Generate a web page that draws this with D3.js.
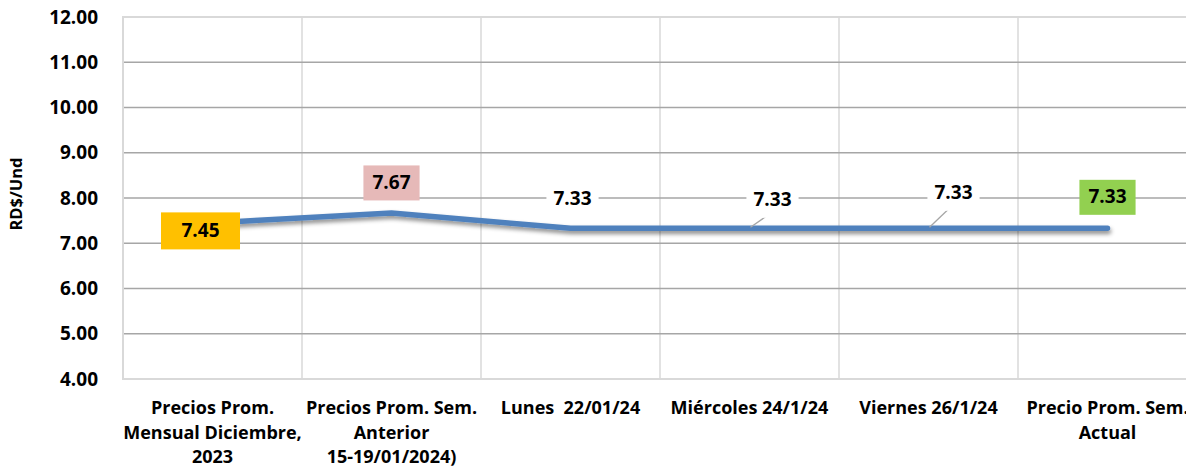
<!DOCTYPE html>
<html>
<head>
<meta charset="utf-8">
<script src="https://cdn.jsdelivr.net/npm/d3@7"></script>
<style>
  body { margin: 0; background: #fff; }
  svg { display: block; font-family: "Open Sans", Lato, sans-serif; font-weight: 700; }
</style>
</head>
<body>
<svg id="chart" width="1186" height="466"></svg>
<script>
// categories (wrapped the way the original shows them)
const categories = [
  ['Precios Prom.', 'Mensual Diciembre,', '2023'],
  ['Precios Prom. Sem.', 'Anterior', '15-19/01/2024)'],
  ['Lunes  22/01/24'],
  ['Miércoles 24/1/24'],
  ['Viernes 26/1/24'],
  ['Precio Prom. Sem.', 'Actual'],
]
const prices = [7.45, 7.67, 7.33, 7.33, 7.33, 7.33]
const labelFills = ['#ffc000', '#e6b9b8', '#fff', '#fff', '#fff', '#92d050']
const yTicks = [4, 5, 6, 7, 8, 9, 10, 11, 12]
const yTitle = 'RD$/Und'

// label offsets relative to the point (px)
const labelOffsets = [[-12, 7], [0, -31], [2, -30], [23, -29], [25, -36], [0, -32]]
const leaderLines = [false, false, false, true, true, false]

const margin = { top: 17, left: 123, bottom: 87 }
const width = 1197 - margin.left
const height = 466 - margin.top - margin.bottom

const svg = d3.select('#chart')
const g = svg.append('g').attr('transform', `translate(${margin.left},${margin.top})`)

const x = d3.scaleBand().domain(d3.range(categories.length)).range([0, width])
const y = d3.scaleLinear().domain([4, 12]).range([height, 0])

const defs = svg.append('defs')
defs.append('filter')
  .attr('id', 'shadow')
  .attr('x', '-10%').attr('y', '-50%').attr('width', '120%').attr('height', '300%')
  .append('feDropShadow')
  .attr('dx', 1).attr('dy', 3).attr('stdDeviation', 2.2)
  .attr('flood-color', '#000').attr('flood-opacity', 0.45)

// vertical gridlines
g.append('g')
  .selectAll('line')
  .data(d3.range(categories.length + 1))
  .join('line')
  .attr('x1', i => i * x.step()).attr('x2', i => i * x.step())
  .attr('y1', 0).attr('y2', height)
  .attr('stroke', '#d9d9d9').attr('stroke-width', 1.5)

// horizontal gridlines
g.append('g')
  .selectAll('line')
  .data(yTicks.slice(1, -1))
  .join('line')
  .attr('x1', 0).attr('x2', width)
  .attr('y1', d => y(d)).attr('y2', d => y(d))
  .attr('stroke', '#a6a6a6').attr('stroke-width', 1.5)

// plot border
g.append('rect')
  .attr('x', 0).attr('y', 0).attr('width', width).attr('height', height)
  .attr('fill', 'none').attr('stroke', '#d9d9d9').attr('stroke-width', 2)

// y axis
const yAxis = g.append('g')
  .call(d3.axisLeft(y).tickValues(yTicks).tickFormat(d3.format('.2f')).tickSize(0).tickPadding(25))
yAxis.select('.domain').remove()
yAxis.selectAll('text')
  .attr('font-family', '"Open Sans", sans-serif').attr('font-weight', 700)
  .attr('font-size', 19).attr('fill', '#000')

svg.append('text')
  .attr('transform', 'translate(15,194) rotate(-90)')
  .attr('text-anchor', 'middle').attr('dominant-baseline', 'central')
  .attr('font-size', 16.5).attr('fill', '#000')
  .text(yTitle)

// x labels
const xLabels = g.append('g')
  .selectAll('text')
  .data(categories)
  .join('text')
  .attr('x', (d, i) => x(i) + x.bandwidth() / 2)
  .attr('y', height + 35)
  .attr('text-anchor', 'middle')
  .attr('font-size', 18).attr('fill', '#000')
  .style('white-space', 'pre')
xLabels.selectAll('tspan')
  .data(d => d)
  .join('tspan')
  .attr('x', function () { return this.parentNode.getAttribute('x') })
  .attr('dy', (d, i) => i === 0 ? 0 : 24.5)
  .text(d => d)

// line
const cx = i => x(i) + x.bandwidth() / 2
const line = d3.line().x((d, i) => cx(i)).y(d => y(d))
g.append('path')
  .datum(prices)
  .attr('d', line)
  .attr('fill', 'none')
  .attr('stroke', '#4f81bd').attr('stroke-width', 5.5)
  .attr('stroke-linecap', 'round').attr('stroke-linejoin', 'round')
  .attr('filter', 'url(#shadow)')

// leader lines
g.append('g')
  .selectAll('line')
  .data(prices.map((d, i) => ({ d, i })).filter(({ i }) => leaderLines[i]))
  .join('line')
  .attr('x1', ({ i }) => cx(i) + labelOffsets[i][0] - 2)
  .attr('y1', ({ d, i }) => y(d) + labelOffsets[i][1] + 14)
  .attr('x2', ({ i }) => cx(i) + 1)
  .attr('y2', ({ d }) => y(d) - 1)
  .attr('stroke', '#a6a6a6').attr('stroke-width', 1.3)

// data labels
const labels = g.append('g')
  .selectAll('g')
  .data(prices)
  .join('g')
  .attr('transform', (d, i) => `translate(${cx(i) + labelOffsets[i][0]},${y(d) + labelOffsets[i][1]})`)

labels.append('rect')
  .attr('fill', (d, i) => labelFills[i])
labels.append('text')
  .attr('text-anchor', 'middle').attr('dominant-baseline', 'central')
  .attr('font-size', 19).attr('fill', '#000')
  .text(d => d3.format('.2f')(d))
labels.each(function (d, i) {
  const bb = d3.select(this).select('text').node().getBBox()
  const padX = i === 0 ? 20.5 : (labelFills[i] === '#fff' ? 7 : 9)
  const padY = i === 0 ? 5.5 : 4.5
  d3.select(this).select('rect')
    .attr('x', -bb.width / 2 - padX).attr('y', -bb.height / 2 - padY + 1)
    .attr('width', bb.width + 2 * padX).attr('height', bb.height + 2 * padY)
})
</script>
</body>
</html>
